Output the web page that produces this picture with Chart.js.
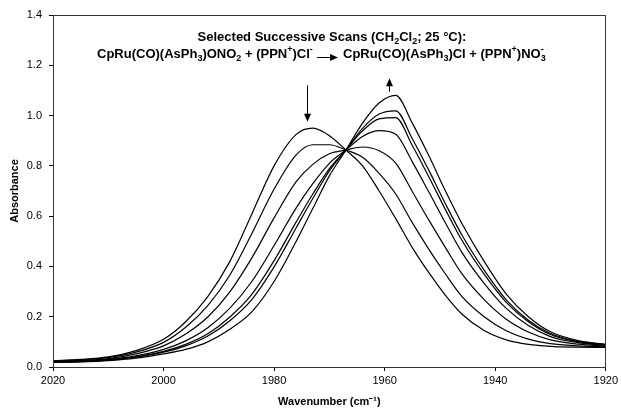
<!DOCTYPE html>
<html lang="en">
<head>
<meta charset="UTF-8" />
<title>Selected Successive Scans</title>
<script src="https://cdn.jsdelivr.net/npm/chart.js"></script>
<style>
  body { margin: 0; background: #fff; }
  #wrap { width: 621px; height: 412px; }
</style>
</head>
<body>
<div id="wrap"><canvas id="scans" width="621" height="412"></canvas></div>
<script>
  // wavenumber (cm-1) sample points
  const wavenumbers = [2020, 2015, 2010, 2005, 2000, 1996, 1992, 1988, 1984, 1980, 1976, 1973, 1970, 1967,
                       1964, 1961, 1958, 1955, 1952, 1949, 1946, 1942, 1938, 1934, 1930, 1925, 1920];

  // absorbance of each selected scan (first = nitrate complex, last = chloride complex)
  const scan1 = [0.025, 0.030, 0.040, 0.065, 0.110, 0.180, 0.280, 0.420, 0.610, 0.800, 0.925, 0.950, 0.920, 0.863,
                 0.800, 0.700, 0.590, 0.475, 0.375, 0.285, 0.210, 0.145, 0.108, 0.090, 0.082, 0.079, 0.078];
  const scan2 = [0.024, 0.028, 0.037, 0.059, 0.098, 0.158, 0.244, 0.366, 0.532, 0.708, 0.844, 0.884, 0.884, 0.863,
                 0.834, 0.770, 0.688, 0.574, 0.468, 0.370, 0.280, 0.200, 0.144, 0.111, 0.093, 0.084, 0.080];
  const scan3 = [0.022, 0.026, 0.033, 0.052, 0.084, 0.131, 0.199, 0.299, 0.435, 0.593, 0.737, 0.806, 0.848, 0.863,
                 0.875, 0.860, 0.811, 0.698, 0.584, 0.475, 0.370, 0.268, 0.190, 0.139, 0.108, 0.091, 0.083];
  const scan4 = [0.020, 0.023, 0.030, 0.044, 0.070, 0.104, 0.156, 0.234, 0.341, 0.483, 0.633, 0.729, 0.810, 0.863,
                 0.917, 0.940, 0.926, 0.816, 0.696, 0.573, 0.455, 0.333, 0.233, 0.165, 0.121, 0.097, 0.086];
  const scan5 = [0.019, 0.022, 0.028, 0.040, 0.062, 0.090, 0.132, 0.199, 0.290, 0.423, 0.577, 0.688, 0.789, 0.863,
                 0.939, 0.987, 0.992, 0.881, 0.756, 0.626, 0.503, 0.369, 0.257, 0.180, 0.129, 0.100, 0.088];
  const scan6 = [0.019, 0.021, 0.027, 0.039, 0.059, 0.084, 0.123, 0.184, 0.269, 0.398, 0.554, 0.670, 0.780, 0.863,
                 0.949, 1.006, 1.019, 0.908, 0.782, 0.649, 0.524, 0.385, 0.267, 0.186, 0.133, 0.102, 0.089];
  const scan7 = [0.018, 0.020, 0.025, 0.035, 0.052, 0.070, 0.100, 0.150, 0.220, 0.340, 0.500, 0.630, 0.760, 0.863,
                 0.970, 1.050, 1.080, 0.970, 0.840, 0.700, 0.570, 0.420, 0.290, 0.200, 0.140, 0.105, 0.090];

  const scans = [scan1, scan2, scan3, scan4, scan5, scan6, scan7];

  // arrows in data units: x = wavenumber, from/to = absorbance
  const downArrow = { x: 1974, from: 1.12, to: 0.975 };
  const upArrow = { x: 1959.3, from: 1.095, to: 1.148 };

  const fontFamily = '"Liberation Sans", Arial, sans-serif';
  const bigFont = 'bold 13px ' + fontFamily;
  const smallFont = 'bold 9px ' + fontFamily;

  function partWidth(ctx, p) {
    if (p.t !== undefined) {
      ctx.font = bigFont;
      return ctx.measureText(p.t).width;
    }
    ctx.font = smallFont;
    const a = p.sub ? ctx.measureText(p.sub).width : 0;
    const b = p.sup ? ctx.measureText(p.sup).width : 0;
    return Math.max(a, b);
  }

  function drawRich(ctx, parts, x, y, align) {
    const total = parts.reduce((s, p) => s + partWidth(ctx, p), 0);
    let cx = align === 'center' ? x - total / 2 : x;
    ctx.textAlign = 'left';
    ctx.textBaseline = 'alphabetic';
    ctx.fillStyle = '#000';
    parts.forEach(p => {
      const w = partWidth(ctx, p);
      if (p.t !== undefined) {
        ctx.font = bigFont;
        ctx.fillText(p.t, cx, y);
      } else {
        ctx.font = smallFont;
        if (p.sub) ctx.fillText(p.sub, cx, y + 3);
        if (p.sup) ctx.fillText(p.sup, cx, y - 6);
      }
      cx += w;
    });
    return cx;
  }

  function arrowHead(ctx, x, y, dir) {
    // dir: 1 pointing down, -1 pointing up, 2 pointing right
    ctx.beginPath();
    if (dir === 2) {
      ctx.moveTo(x, y);
      ctx.lineTo(x - 8, y - 3.5);
      ctx.lineTo(x - 8, y + 3.5);
    } else {
      ctx.moveTo(x, y);
      ctx.lineTo(x - 3.5, y - 8 * dir);
      ctx.lineTo(x + 3.5, y - 8 * dir);
    }
    ctx.closePath();
    ctx.fill();
  }

  const annotations = {
    id: 'annotations',
    afterDraw(chart) {
      const { ctx, chartArea: a, scales: { x, y } } = chart;
      ctx.save();

      // plot frame
      ctx.strokeStyle = '#333';
      ctx.lineWidth = 1;
      ctx.strokeRect(Math.round(a.left) + 0.5, Math.round(a.top) + 0.5, Math.round(a.width) - 1, Math.round(a.height));

      // heading
      drawRich(ctx, [{ t: 'Selected Successive Scans (CH' }, { sub: '2' }, { t: 'Cl' }, { sub: '2' }, { t: '; 25 °C):' }],
        332, 41, 'center');
      drawRich(ctx, [{ t: 'CpRu(CO)(AsPh' }, { sub: '3' }, { t: ')ONO' }, { sub: '2' }, { t: ' + (PPN' }, { sup: '+' },
        { t: ')Cl' }, { sup: '-' }], 97, 58, 'left');
      drawRich(ctx, [{ t: 'CpRu(CO)(AsPh' }, { sub: '3' }, { t: ')Cl + (PPN' }, { sup: '+' }, { t: ')NO' },
        { sub: '3', sup: '-' }], 343, 58, 'left');

      ctx.strokeStyle = '#000';
      ctx.fillStyle = '#000';
      ctx.lineWidth = 1;

      // reaction arrow
      ctx.beginPath();
      ctx.moveTo(317, 57.5);
      ctx.lineTo(331, 57.5);
      ctx.stroke();
      arrowHead(ctx, 338, 57.5, 2);

      // decrease arrow over the first band
      const dx = Math.round(x.getPixelForValue(downArrow.x)) + 0.5;
      const dTop = y.getPixelForValue(downArrow.from);
      const dTip = y.getPixelForValue(downArrow.to);
      ctx.beginPath();
      ctx.moveTo(dx, dTop);
      ctx.lineTo(dx, dTip - 7);
      ctx.stroke();
      arrowHead(ctx, dx, dTip, 1);

      // increase arrow over the second band
      const ux = Math.round(x.getPixelForValue(upArrow.x)) + 0.5;
      const uBot = y.getPixelForValue(upArrow.from);
      const uTip = y.getPixelForValue(upArrow.to);
      ctx.beginPath();
      ctx.moveTo(ux, uBot);
      ctx.lineTo(ux, uTip + 7);
      ctx.stroke();
      arrowHead(ctx, ux, uTip, -1);

      ctx.restore();
    }
  };

  new Chart(document.getElementById('scans'), {
    type: 'line',
    data: {
      datasets: scans.map((s, k) => ({
        label: 'Scan ' + (k + 1),
        data: wavenumbers.map((w, i) => ({ x: w, y: s[i] })),
        borderColor: '#000',
        borderWidth: 1.2,
        fill: false,
        pointRadius: 0,
        tension: 0.4,
        cubicInterpolationMode: 'monotone'
      }))
    },
    options: {
      responsive: false,
      animation: false,
      layout: { padding: { top: 15, right: 14, left: 0, bottom: 0 } },
      plugins: {
        legend: { display: false },
        tooltip: { enabled: false }
      },
      scales: {
        x: {
          type: 'linear',
          reverse: true,
          min: 1920,
          max: 2020,
          afterFit: s => { s.height = 45; },
          ticks: {
            stepSize: 20,
            color: '#000',
            padding: 3,
            maxRotation: 0,
            font: { family: fontFamily, size: 11 },
            callback: v => String(v)
          },
          grid: { drawOnChartArea: false, drawTicks: true, tickLength: 4, color: '#000' },
          border: { color: '#000', width: 1 },
          title: {
            display: true,
            text: 'Wavenumber (cm⁻¹)',
            color: '#000',
            padding: { top: 0, bottom: 3 },
            font: { family: fontFamily, size: 11, weight: 'bold' }
          }
        },
        y: {
          min: 0,
          max: 1.4,
          afterFit: s => { s.width = 53; },
          ticks: {
            stepSize: 0.2,
            color: '#000',
            padding: 7,
            font: { family: fontFamily, size: 11 },
            callback: v => v.toFixed(1)
          },
          grid: { drawOnChartArea: false, drawTicks: true, tickLength: 4, color: '#000' },
          border: { color: '#000', width: 1 },
          title: {
            display: true,
            text: 'Absorbance',
            color: '#000',
            padding: { top: 8, bottom: 0 },
            font: { family: fontFamily, size: 11, weight: 'bold' }
          }
        }
      }
    },
    plugins: [annotations]
  });
</script>
</body>
</html>
